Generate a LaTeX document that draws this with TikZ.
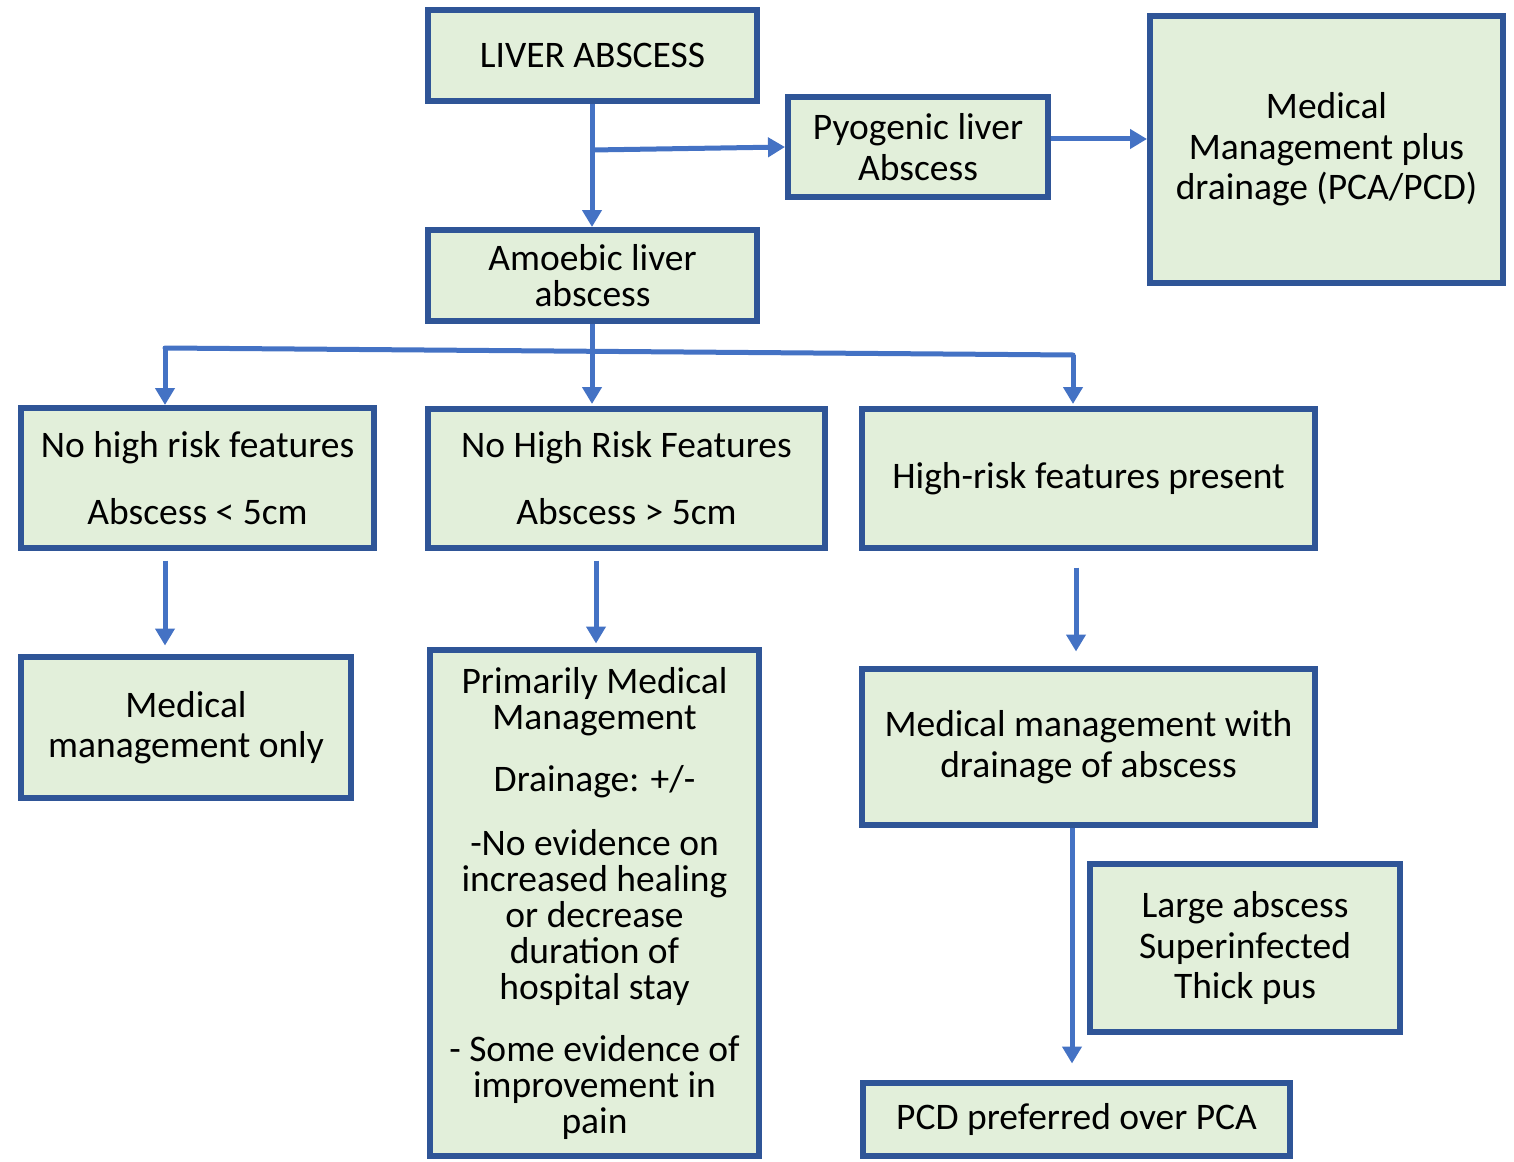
\documentclass[tikz,border=0pt]{standalone}
\usepackage{fontspec}
\setmainfont{Carlito}
\usetikzlibrary{arrows.meta,calc}
\definecolor{boxfill}{HTML}{E2EFDA}
\definecolor{boxline}{HTML}{2F5597}
\definecolor{arrowc}{HTML}{4472C4}
\tikzset{
  box/.style={draw=boxline, fill=boxfill, line width=6pt, rectangle, inner sep=0pt, align=center,
    font=\fontsize{37.5}{40.5}\selectfont},
  smallbox/.style={box, font=\fontsize{37.5}{36}\selectfont},
  conn/.style={draw=arrowc, line width=5pt},
  arr/.style={conn, -{Triangle[width=19pt,length=17pt]}},
}
\begin{document}
\begin{tikzpicture}[x=1pt,y=-1pt]
\useasboundingbox (0,0) rectangle (1514,1161);
% boxes
\node[box, minimum width=329pt, minimum height=91pt] (liver) at (592.5,55.5) {LIVER ABSCESS};
\node[box, minimum width=260pt, minimum height=100pt] (pyo) at (918,147) {Pyogenic liver\\Abscess};
\node[box, minimum width=353pt, minimum height=267pt] (medplus) at (1326.5,149.5) {Medical\\Management plus\\drainage (PCA/PCD)};
\node[smallbox, minimum width=329pt, minimum height=91pt] (amoebic) at (592.5,275.5) {Amoebic liver\\abscess};
\node[box, minimum width=353pt, minimum height=140pt] (nhr1) at (197.5,478) {No high risk features\\[26.5pt]Abscess < 5cm};
\node[box, minimum width=397pt, minimum height=139pt] (nhr2) at (626.5,478.5) {No High Risk Features\\[26.5pt]Abscess > 5cm};
\node[box, minimum width=453pt, minimum height=139pt] (hr) at (1088.5,478.5) {High-risk features present};
\node[box, minimum width=330pt, minimum height=141pt] (mmo) at (186,727.5) {Medical\\management only};
\node[smallbox, minimum width=329pt, minimum height=506pt] (prim) at (594.5,903) {Primarily Medical\\Management\\[26pt]Drainage: +/-\\[28pt]-No evidence on\\increased healing\\or decrease\\duration of\\hospital stay\\[26pt]- Some evidence of\\improvement in\\pain};
\node[box, minimum width=453pt, minimum height=156pt] (mmd) at (1088.5,747) {Medical management with\\drainage of abscess};
\node[box, minimum width=310pt, minimum height=168pt] (large) at (1245,948) {Large abscess\\Superinfected\\Thick pus};
\node[box, minimum width=427pt, minimum height=73pt] (pcd) at (1076.5,1119.5) {PCD preferred over PCA};
% junction coordinates
\coordinate (j1) at (592,150);
\coordinate (a) at (165,348);
\coordinate (m) at (592,352);
\coordinate (b) at (1073,355);
\coordinate (c2) at (596,0);
\coordinate (c3) at (1076,0);
\coordinate (c4) at (1072,0);
% connectors
\draw[arr] (liver.south -| j1) -- (amoebic.north -| j1);
\draw[arr] (j1) -- (pyo.west);
\draw[arr] ([yshift=8pt]pyo.east) -- ([yshift=10.5pt]medplus.west);
\draw[conn] (amoebic.south -| m) -- (m);
\draw[conn, line cap=round] (a) -- (b);
\draw[arr] (a) -- (a |- nhr1.north);
\draw[arr] (m) -- ([yshift=2pt]m |- nhr2.north);
\draw[arr] (b) -- ([yshift=2pt]b |- hr.north);
\draw[arr] ([yshift=-9.5pt]nhr1.south -| a) -- ([yshift=8.5pt]mmo.north -| a);
\draw[arr] ([yshift=-9.5pt]nhr2.south -| c2) -- ([yshift=3.5pt]prim.north -| c2);
\draw[arr] ([yshift=-16.5pt]hr.south -| c3) -- ([yshift=14.5pt]mmd.north -| c3);
\draw[arr] (mmd.south -| c4) -- ([yshift=16.5pt]pcd.north -| c4);
\end{tikzpicture}
\end{document}
